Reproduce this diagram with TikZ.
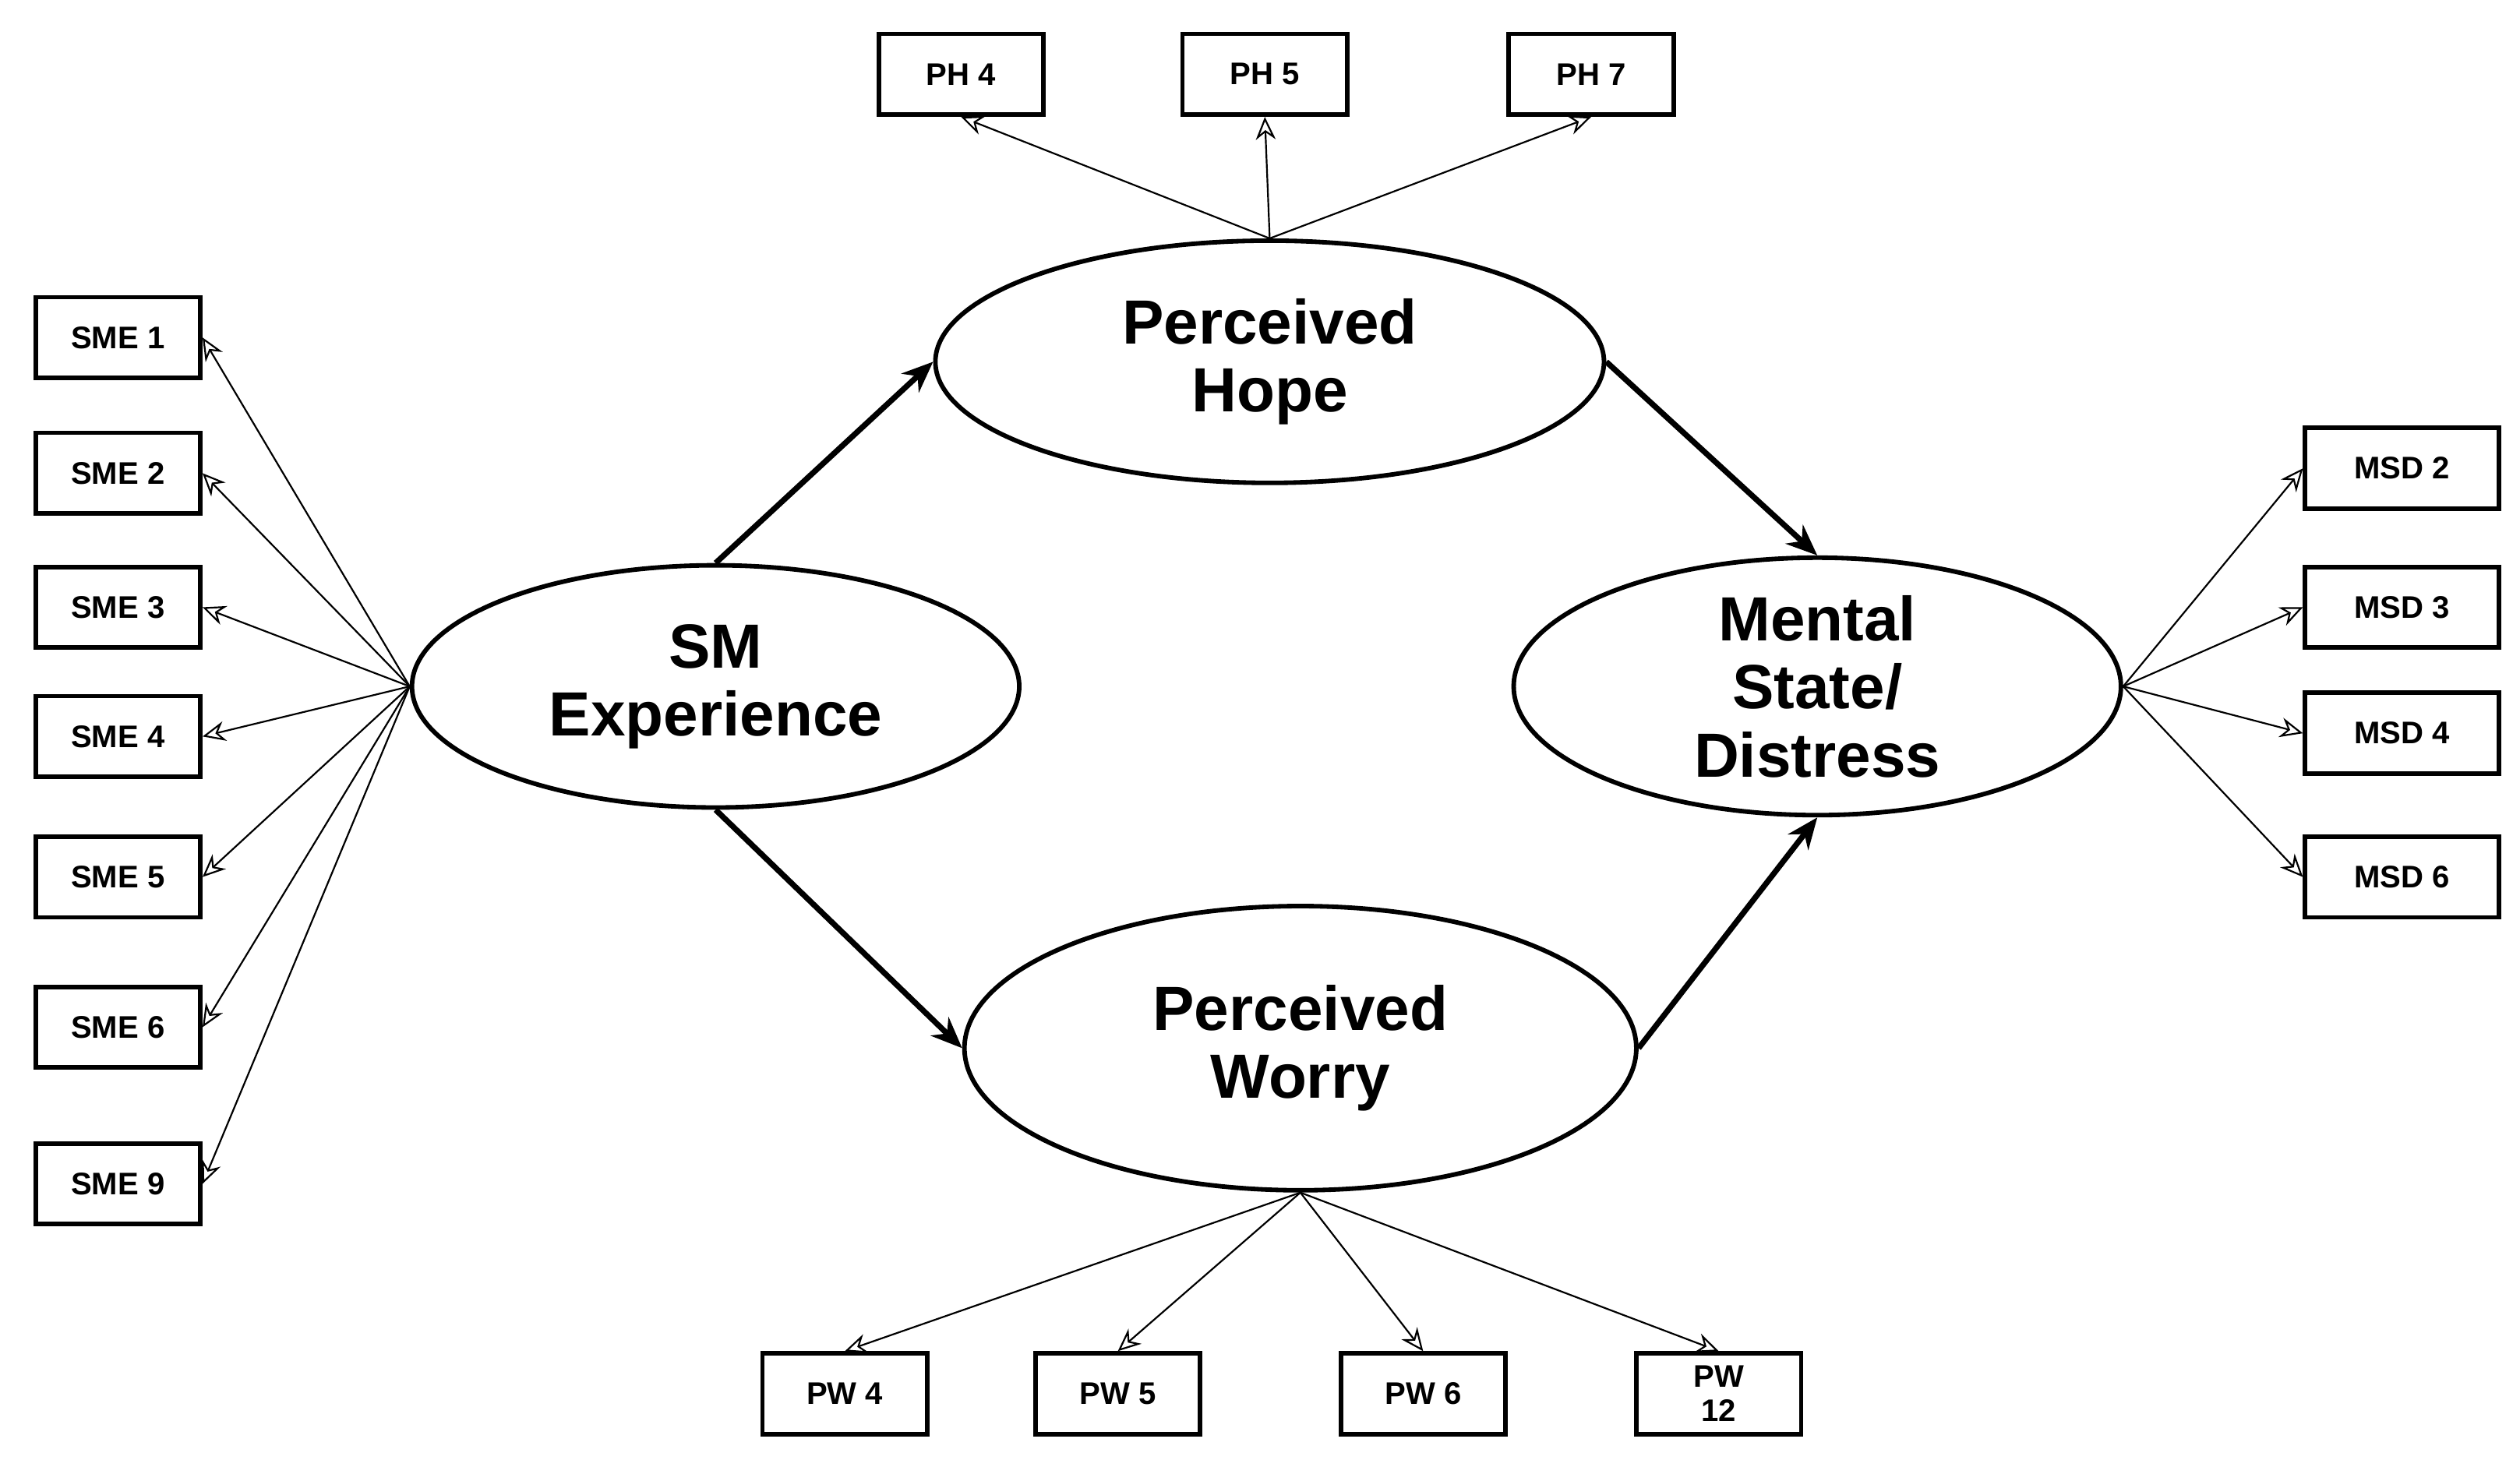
\documentclass[tikz,border=0pt]{standalone}
\usepackage{fontspec}
\setmainfont{Liberation Sans}
\usetikzlibrary{shapes.geometric,arrows.meta}
\begin{document}
\begin{tikzpicture}[x=0.02cm,y=-0.02cm,
 box/.style={draw,line width=1.6pt,minimum width=2.04cm,minimum height=1cm,font=\bfseries\fontsize{11}{12}\selectfont,inner sep=1pt,align=center},
 lat/.style={draw,ellipse,line width=1.6pt,font=\bfseries\fontsize{22}{24}\selectfont,align=center,inner sep=0pt},
 thin/.style={line width=0.6pt,-{Stealth[open,length=8pt,width=7pt]}},
 thick/.style={line width=2pt,-{Stealth[length=11pt,width=9pt]}}]
\useasboundingbox (0,0) rectangle (1560,908);
\node[lat,minimum width=7.52cm,minimum height=3cm] (sm) at (443,425) {SM\\Experience};
\node[lat,minimum width=8.28cm,minimum height=3cm] (ph) at (786,224) {Perceived\\Hope};
\node[lat,minimum width=8.32cm,minimum height=3.52cm] (pw) at (805,649) {Perceived\\Worry};
\node[lat,minimum width=7.52cm,minimum height=3cm] (ms) at (1125,425) {Mental\\State/\\Distress};
\foreach \n/\y/\t in {s1/209/SME 1,s2/293/SME 2,s3/376/SME 3,s4/456/SME 4,s5/543/SME 5,s6/636/SME 6,s9/733/SME 9}{
 \node[box] (\n) at (73,\y) {\t};
 \draw[thin] (sm.west) -- (\n.east);}
\foreach \n/\x/\t in {h4/595/PH 4,h5/783/PH 5,h7/985/PH 7}{
 \node[box] (\n) at (\x,46) {\t};
 \draw[thin] (ph.north) -- (\n.south);}
\foreach \n/\x/\t in {w4/523/PW 4,w5/692/PW 5,w6/881/PW 6,w12/1064/PW\\12}{
 \node[box] (\n) at (\x,863) {\t};
 \draw[thin] (pw.south) -- (\n.north);}
\foreach \n/\y/\t in {m2/290/MSD 2,m3/376/MSD 3,m4/454/MSD 4,m6/543/MSD 6}{
 \node[box,minimum width=2.4cm] (\n) at (1487,\y) {\t};
 \draw[thin] (ms.east) -- (\n.west);}
\draw[thick] (sm.north) -- (ph.west);
\draw[thick] (ph.east) -- (ms.north);
\draw[thick] (sm.south) -- (pw.west);
\draw[thick] (pw.east) -- (ms.south);
\end{tikzpicture}
\end{document}
